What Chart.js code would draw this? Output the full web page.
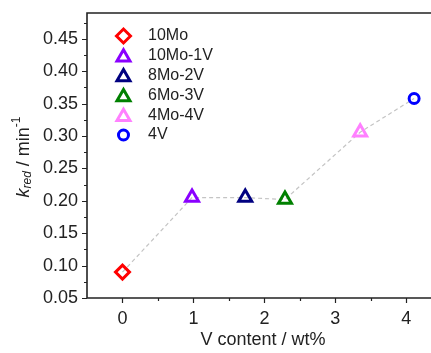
<!DOCTYPE html>
<html>
<head>
<meta charset="utf-8">
<script src="https://cdn.jsdelivr.net/npm/chart.js@4.4.1/dist/chart.umd.min.js"></script>
<style>
    html, body { margin: 0; padding: 0; background: #fff; }
    #box { width: 431px; height: 353px; overflow: hidden; }
</style>
</head>
<body>
<div id="box"><canvas id="kChart" width="431" height="353"></canvas></div>
<script>
/* ===== DATA ===== */
const sampleNames = ["10Mo", "10Mo-1V", "8Mo-2V", "6Mo-3V", "4Mo-4V", "4V"];
const vContent = [0, 0.98, 1.73, 2.29, 3.35, 4.11];
const kRed = [0.090, 0.205, 0.205, 0.202, 0.306, 0.358];
const markerColors = ["#ff0000", "#8a00ff", "#000080", "#008000", "#ff80ff", "#0000ff"];
const markerStyles = ["rectRot", "triangle", "triangle", "triangle", "triangle", "circle"];
const markerSizes = [7, 7.5, 7.5, 7.5, 7.5, 5];
const xTicks = [0, 1, 2, 3, 4];
const yTicks = [0.05, 0.10, 0.15, 0.20, 0.25, 0.30, 0.35, 0.40, 0.45];

const FONT = "'Liberation Sans', Arial, sans-serif";
const AXIS = "#222";

/* ===== DATASETS ===== */
const pointSets = sampleNames.map((name, i) => ({
    label: name,
    data: [{x: vContent[i], y: kRed[i]}],
    showLine: false,
    pointStyle: markerStyles[i],
    pointRadius: markerSizes[i],
    pointBorderWidth: 3,
    borderColor: markerColors[i],
    backgroundColor: "rgba(0,0,0,0)",
    clip: false,
    order: 0
}));

const trendLine = {
    label: "trend",
    data: vContent.map((v, i) => ({x: v, y: kRed[i]})),
    showLine: true,
    borderColor: "#c4c4c4",
    borderWidth: 1.2,
    borderDash: [4, 3],
    pointRadius: 0,
    clip: false,
    order: 1
};

// drop the label overflow padding chart.js adds, so the plot area stays put
function noPad(s) {
    s.paddingLeft = 0; s.paddingRight = 0;
    s.paddingTop = 0; s.paddingBottom = 0;
}

/* ===== FRAME, TICKS, TITLES, LEGEND ===== */
const decorations = {
    id: "decorations",
    afterDraw(chart) {
        const ctx = chart.ctx;
        const a = chart.chartArea;
        const xs = chart.scales.x, ys = chart.scales.y;
        ctx.save();

        // frame: left, bottom, top (right side is cut off in the original)
        ctx.strokeStyle = AXIS;
        ctx.lineWidth = 1.6;
        ctx.beginPath();
        ctx.moveTo(431, a.top);
        ctx.lineTo(a.left, a.top);
        ctx.lineTo(a.left, a.bottom);
        ctx.lineTo(431, a.bottom);
        ctx.stroke();

        // y ticks
        ctx.lineWidth = 1.2;
        ctx.beginPath();
        for (let v = 0.05; v <= 0.4801; v += 0.025) {
            const major = Math.abs(Math.round(v / 0.05) * 0.05 - v) < 1e-6;
            const py = Math.round(ys.getPixelForValue(v)) + 0.5;
            ctx.moveTo(a.left, py);
            ctx.lineTo(a.left - (major ? 5 : 3), py);
        }
        // x ticks
        for (let v = 0; v <= xs.max; v += 0.5) {
            const major = Math.abs(v - Math.round(v)) < 1e-6;
            const px = Math.round(xs.getPixelForValue(v)) + 0.5;
            ctx.moveTo(px, a.bottom);
            ctx.lineTo(px, a.bottom + (major ? 5 : 3));
        }
        ctx.stroke();

        // x title
        ctx.fillStyle = AXIS;
        ctx.font = "18px " + FONT;
        ctx.textAlign = "center";
        ctx.textBaseline = "middle";
        ctx.fillText("V content / wt%", 263, 340);

        // y title with italic subscript and superscript
        const parts = [
            {t: "k", f: "italic 18px " + FONT, dy: 0},
            {t: "red", f: "italic 12px " + FONT, dy: 4},
            {t: " / min", f: "18px " + FONT, dy: 0},
            {t: "-1", f: "12px " + FONT, dy: -7}
        ];
        let total = 0;
        parts.forEach(p => { ctx.font = p.f; p.w = ctx.measureText(p.t).width; total += p.w; });
        ctx.translate(24, 157);
        ctx.rotate(-Math.PI / 2);
        ctx.textAlign = "left";
        ctx.textBaseline = "middle";
        let cx = -total / 2;
        parts.forEach(p => {
            ctx.font = p.f;
            ctx.fillText(p.t, cx, p.dy);
            cx += p.w;
        });
        ctx.setTransform(1, 0, 0, 1, 0, 0);

        // legend
        const lx = xs.getPixelForValue(0) + 1;
        ctx.font = "16px " + FONT;
        ctx.textAlign = "left";
        ctx.textBaseline = "middle";
        sampleNames.forEach((name, i) => {
            const ly = 36 + i * 19.8;
            ctx.strokeStyle = markerColors[i];
            ctx.fillStyle = "rgba(0,0,0,0)";
            ctx.lineWidth = 3;
            Chart.helpers.drawPoint(ctx, {
                pointStyle: markerStyles[i],
                radius: markerSizes[i],
                rotation: 0,
                borderWidth: 3
            }, lx, ly + (markerStyles[i] === "triangle" ? 1.5 : 0));
            ctx.fillStyle = AXIS;
            ctx.fillText(name, 148, ly);
        });
        ctx.restore();
    }
};

/* ===== CHART ===== */
new Chart(document.getElementById("kChart"), {
    type: "scatter",
    data: { datasets: [...pointSets, trendLine] },
    options: {
        responsive: false,
        animation: false,
        layout: { padding: { top: 13, right: 0, left: 0, bottom: 0 } },
        plugins: { legend: { display: false }, tooltip: { enabled: false } },
        scales: {
            x: {
                type: "linear",
                min: -0.5,
                max: 4.2,   // plot area ends ~10px short of the canvas edge
                afterBuildTicks: s => { s.ticks = xTicks.map(v => ({value: v})); },
                afterFit: s => { s.height = 55; noPad(s); },
                grid: { display: false, drawTicks: false },
                border: { display: false },
                ticks: {
                    padding: 10,
                    color: AXIS,
                    font: { family: FONT, size: 18 },
                    callback: v => String(v)
                }
            },
            y: {
                min: 0.05,
                max: 0.49,
                afterBuildTicks: s => { s.ticks = yTicks.map(v => ({value: v})); },
                afterFit: s => { s.width = 87; noPad(s); },
                grid: { display: false, drawTicks: false },
                border: { display: false },
                ticks: {
                    padding: 9,
                    color: AXIS,
                    font: { family: FONT, size: 18 },
                    callback: v => v.toFixed(2)
                }
            }
        }
    },
    plugins: [decorations]
});
</script>
</body>
</html>
